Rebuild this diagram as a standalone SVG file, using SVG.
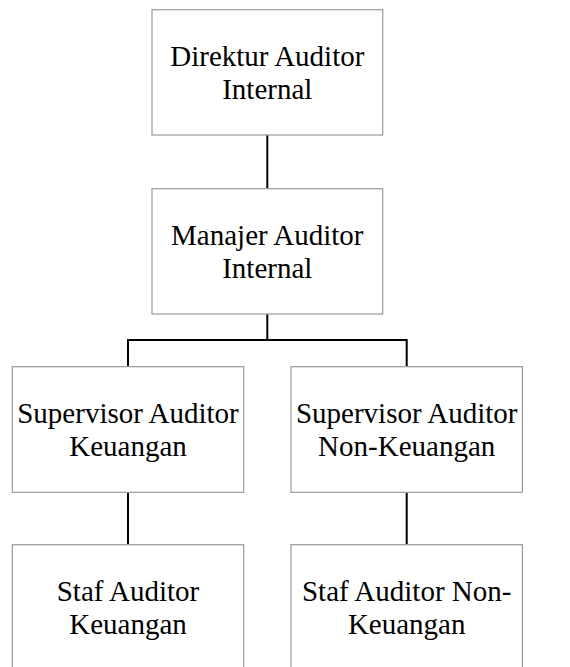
<svg xmlns="http://www.w3.org/2000/svg" width="570" height="667" viewBox="0 0 570 667">
<style>
.box{fill:#fff;stroke:#999;stroke-width:1.2}
.t{font-family:"Liberation Serif","Times New Roman",serif;font-size:29px;fill:#000;text-anchor:middle}
.c{fill:none;stroke:#000;stroke-width:2}
</style>
<rect width="570" height="667" fill="#fff"/>
<g id="connectors">
<line class="c" x1="267.3" y1="135" x2="267.3" y2="188.7"/>
<polyline class="c" points="267.3,314 267.3,340 128,340 128,366.7"/>
<polyline class="c" points="267.3,340 406.7,340 406.7,366.7"/>
<line class="c" x1="128" y1="492.3" x2="128" y2="544.7"/>
<line class="c" x1="406.7" y1="492.3" x2="406.7" y2="544.7"/>
</g>
<g id="direktur">
<rect class="box" x="152" y="9.7" width="230.7" height="125.3"/>
<text class="t" x="267.3" y="65.7">Direktur Auditor</text>
<text class="t" x="267.3" y="99.3">Internal</text>
</g>
<g id="manajer">
<rect class="box" x="152" y="188.7" width="230.7" height="125.3"/>
<text class="t" x="267.3" y="244.7">Manajer Auditor</text>
<text class="t" x="267.3" y="278.3">Internal</text>
</g>
<g id="sup-keu">
<rect class="box" x="12.3" y="366.7" width="231.4" height="125.6"/>
<text class="t" x="128" y="422.7">Supervisor Auditor</text>
<text class="t" x="128" y="456.3">Keuangan</text>
</g>
<g id="sup-nonkeu">
<rect class="box" x="291" y="366.7" width="231.4" height="125.6"/>
<text class="t" x="406.7" y="422.7">Supervisor Auditor</text>
<text class="t" x="406.7" y="456.3">Non-Keuangan</text>
</g>
<g id="staf-keu">
<rect class="box" x="12.3" y="544.7" width="231.4" height="125.6"/>
<text class="t" x="128" y="600.7">Staf Auditor</text>
<text class="t" x="128" y="634.3">Keuangan</text>
</g>
<g id="staf-nonkeu">
<rect class="box" x="291" y="544.7" width="231.4" height="125.6"/>
<text class="t" x="406.7" y="600.7">Staf Auditor Non-</text>
<text class="t" x="406.7" y="634.3">Keuangan</text>
</g>
</svg>
